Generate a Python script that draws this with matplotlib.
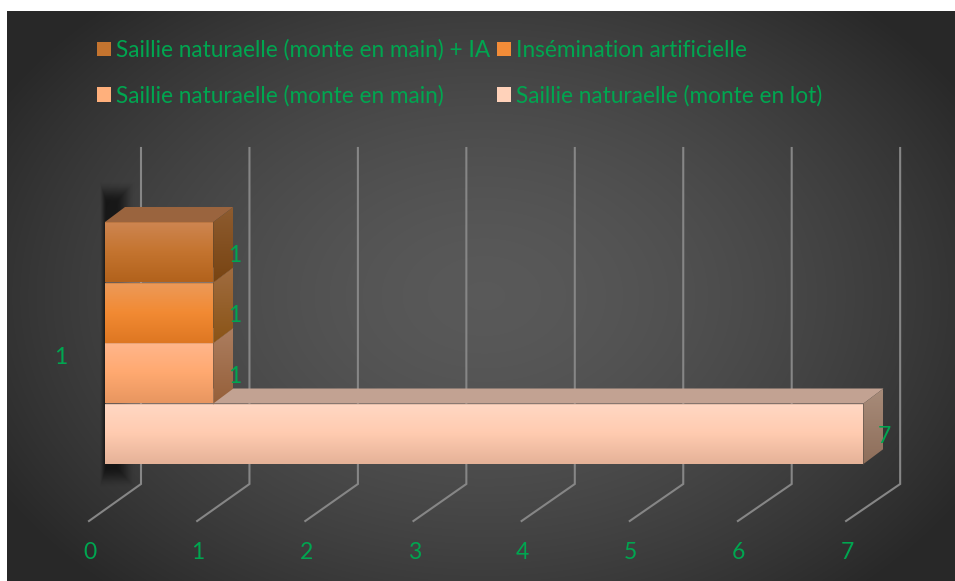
import matplotlib
matplotlib.use("Agg")
import matplotlib.pyplot as plt
import numpy as np
from matplotlib.colors import LinearSegmentedColormap
from matplotlib.patches import Patch, Polygon

plt.rcParams['font.family'] = ['Lato', 'DejaVu Sans']

# data, bottom row first
series = ["Saillie naturaelle (monte en lot)", "Saillie naturaelle (monte en main)",
          "Insémination artificielle", "Saillie naturaelle (monte en main) + IA"]
values = [7, 1, 1, 1]
x_ticks = [0, 1, 2, 3, 4, 5, 6, 7]
category = "1"

# gradient stops top to bottom for each series
front_colors = [["#FFD8C4", "#FFCBB0", "#E5B298"],
                ["#FFB68C", "#FFA970", "#E89660"],
                ["#EC9A5A", "#F28A33", "#DE7722"],
                ["#CE8652", "#C4742F", "#B2621C"]]
side_colors = [["#A88C7A", "#8E6E5A"],
               ["#AC7E60", "#96603A"],
               ["#A06C40", "#8A5416"],
               ["#8E5C30", "#784412"]]
top_colors = ["#C2A292", "#C2A292", "#C2A292", "#9A643E"]
legend_colors = ["#FFD2BA", "#FFB07C", "#F28C38", "#C4742F"]

GREEN = "#00A650"
W, H = 955, 581
UNIT_X = 108.35   # px per value
UNIT_Y = 60.5     # px per row
X0, Y0 = 105, 464  # px of value 0 and of the bottom of row 0
WALL_SCALE = 108.45 / UNIT_X   # the wall is spaced a bit wider than the floor
FOOT_SCALE = 108.15 / UNIT_X


def gradient(ax, verts, colors, zorder):
    # vertical gradient clipped to a polygon
    cmap = LinearSegmentedColormap.from_list("g", colors)
    verts = np.array(verts)
    img = np.linspace(0, 1, 128).reshape(-1, 1)
    ext = [verts[:, 0].min(), verts[:, 0].max(), verts[:, 1].min(), verts[:, 1].max()]
    im = ax.imshow(img, cmap=cmap, extent=ext, origin="upper", aspect="auto",
                   interpolation="bilinear", zorder=zorder)
    clip = Polygon(verts, closed=True, transform=ax.transData)
    im.set_clip_path(clip)


fig = plt.figure(figsize=(W / 100, H / 100), dpi=100, facecolor="white")
ax = fig.add_axes([0, 0, 1, 1])
ax.axis("off")

# dark radial background
yy, xx = np.mgrid[0:H, 0:W]
r = np.sqrt(((xx - 480) / 560) ** 2 + ((yy - 290) / 400) ** 2)
shade = np.clip(1 - r ** 1.6, 0, 1)
bg = 0.16 + 0.19 * shade
bg_img = np.dstack([bg, bg, bg])
ax.imshow(bg_img, extent=[7 / W, 1, 0, 1 - 11 / H], transform=ax.transAxes,
          aspect="auto", zorder=0)

xlim = (-X0 / UNIT_X, (W - X0) / UNIT_X)
ylim = ((Y0 - H) / UNIT_Y - 0.5, Y0 / UNIT_Y - 0.5)
dx, dy = 20 / UNIT_X, 15 / UNIT_Y  # depth of the 3D bars

# back wall and floor lines
wall_x = 36 / UNIT_X
foot_x, foot_y = -16 / UNIT_X, -37 / UNIT_Y
y_floor = ylim[1] - 484 / UNIT_Y
y_top = ylim[1] - 148 / UNIT_Y
for t in x_ticks:
    x_wall = t * WALL_SCALE + wall_x
    x_foot = t * FOOT_SCALE + foot_x
    ax.plot([x_foot, x_wall, x_wall], [y_floor + foot_y, y_floor, y_top],
            color="#868686", lw=1.5, zorder=1, solid_joinstyle="miter")
    ax.text(x_foot + 1 / UNIT_X, ylim[1] - 553 / UNIT_Y, str(t), color=GREEN,
            fontsize=16.5, ha="center", va="center", zorder=6)

# soft shadow behind the stack
sy, sx = np.mgrid[0:320, 0:50]
edge = np.minimum.reduce([(sx - 0) / 7.0, (36 - sx) / 20.0, (sy - 6) / 22.0, (314 - sy) / 22.0])
edge = np.clip(edge, 0, 1)
shadow = np.zeros((320, 50, 4))
shadow[..., 3] = edge * edge * (3 - 2 * edge) * 0.62
ax.imshow(shadow, extent=[(99 - X0) / UNIT_X, (149 - X0) / UNIT_X,
                          ylim[1] - 494 / UNIT_Y, ylim[1] - 174 / UNIT_Y],
          aspect="auto", zorder=1.5)

# front faces, sides and tops
rows = np.arange(len(values))
bars = ax.barh(rows, values, height=1, left=0, color="none", zorder=3)
for i, bar in enumerate(bars):
    x0, x1 = bar.get_x(), bar.get_x() + bar.get_width()
    y0, y1 = bar.get_y(), bar.get_y() + bar.get_height()
    z = 2 + i * 0.1
    ax.add_patch(Polygon([(x0, y1), (x0 + dx, y1 + dy), (x1 + dx, y1 + dy), (x1, y1)],
                         closed=True, fc=top_colors[i], ec="none", zorder=z))
    gradient(ax, [(x1, y0), (x1 + dx, y0 + dy), (x1 + dx, y1 + dy), (x1, y1)], side_colors[i], z)
    gradient(ax, [(x0, y0), (x1, y0), (x1, y1), (x0, y1)], front_colors[i], z + 0.01)
    ax.plot([x1, x1, x0], [y0, y1, y1], color=side_colors[i][1],
            lw=0.5, alpha=0.3, zorder=z + 0.02)
    ax.text(x1 + 21 / UNIT_X, bar.get_y() + 0.5 - 3 / UNIT_Y, str(values[i]), color=GREEN,
            fontsize=16.5, ha="center", va="center", zorder=6)

ax.text(-44 / UNIT_X, ylim[1] - 357 / UNIT_Y, category, color=GREEN, fontsize=16.5,
        ha="center", va="center", zorder=6)

# legend, filled column by column
order = [3, 1, 2, 0]
handles = [Patch(fc=legend_colors[i], ec="none") for i in order]
leg = ax.legend(handles, [series[i] for i in order], ncol=2, frameon=False,
                loc="upper left", bbox_to_anchor=(92 / W, 1 - 35 / H), bbox_transform=fig.transFigure,
                fontsize=16.3, labelcolor=GREEN, handlelength=0.62, handleheight=0.62,
                handletextpad=0.22, columnspacing=0.3, labelspacing=1.05, borderaxespad=0, borderpad=0.2)
leg.set_zorder(7)

ax.set_xlim(*xlim)
ax.set_ylim(*ylim)
fig.savefig("out.png", dpi=100, facecolor="white")
